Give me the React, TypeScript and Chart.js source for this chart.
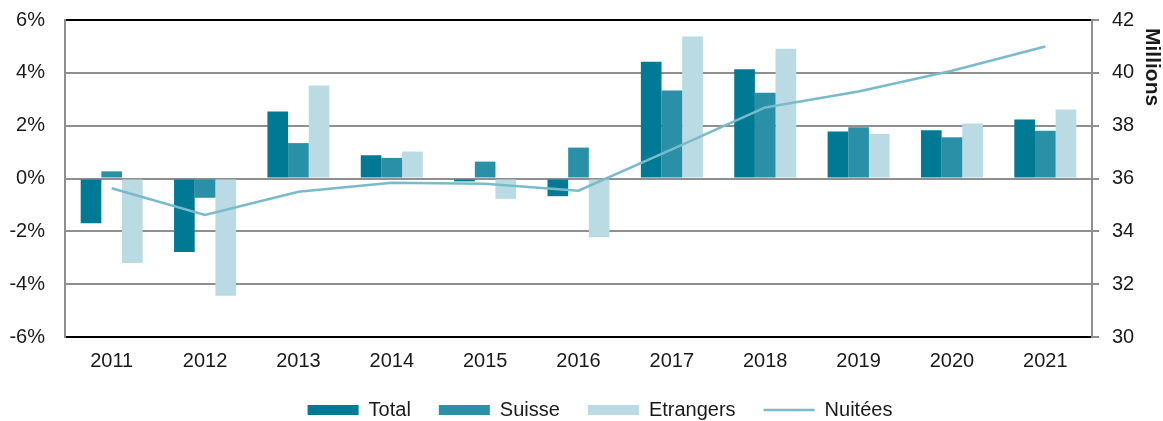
import React, { useEffect, useRef } from "react";
import { Chart, registerables } from "chart.js";

Chart.register(...registerables);

const years = ["2011", "2012", "2013", "2014", "2015", "2016", "2017", "2018", "2019", "2020", "2021"];
const totalPct = [-1.69, -2.78, 2.54, 0.88, -0.11, -0.67, 4.42, 4.14, 1.78, 1.83, 2.23];
const suissePct = [0.27, -0.73, 1.34, 0.78, 0.64, 1.17, 3.33, 3.25, 1.94, 1.56, 1.81];
const etrangersPct = [-3.2, -4.44, 3.52, 1.02, -0.77, -2.22, 5.38, 4.91, 1.68, 2.08, 2.61];
const nuitees = [35.63, 34.62, 35.5, 35.84, 35.8, 35.54, 37.1, 38.69, 39.29, 40.08, 41.0];

const FONT = '"Liberation Sans", Arial, Helvetica, sans-serif';
const GRID = "#8f8f8f";
const TEXT = "#1a1a1a";

const millionsPlugin = {
  id: "millionsTitle",
  afterDraw(chart: any) {
    const { ctx, chartArea } = chart;
    ctx.save();
    ctx.translate(chartArea.right + 54, chartArea.top + 8);
    ctx.rotate(Math.PI / 2);
    ctx.font = `bold 21px ${FONT}`;
    ctx.fillStyle = TEXT;
    ctx.textAlign = "left";
    ctx.textBaseline = "alphabetic";
    ctx.fillText("Millions", 0, 0);
    ctx.restore();
  },
};

export default function App() {
  const ref = useRef<HTMLCanvasElement | null>(null);

  useEffect(() => {
    if (!ref.current) return;
    const chart = new Chart(ref.current, {
      type: "bar",
      data: {
        labels: years,
        datasets: [
          {
            label: "Total",
            data: totalPct,
            backgroundColor: "#007a94",
            borderWidth: 0,
            yAxisID: "y",
            order: 1,
            pointStyle: "rect",
          },
          {
            label: "Suisse",
            data: suissePct,
            backgroundColor: "#2a90a7",
            borderWidth: 0,
            yAxisID: "y",
            order: 1,
            pointStyle: "rect",
          },
          {
            label: "Etrangers",
            data: etrangersPct,
            backgroundColor: "#badbe4",
            borderWidth: 0,
            yAxisID: "y",
            order: 1,
            pointStyle: "rect",
          },
          {
            type: "line",
            label: "Nuitées",
            data: nuitees,
            borderColor: "#79bbca",
            backgroundColor: "#79bbca",
            borderWidth: 2.5,
            pointRadius: 0,
            tension: 0,
            yAxisID: "y1",
            order: 0,
            pointStyle: "line",
          } as any,
        ],
      },
      options: {
        responsive: false,
        animation: false,
        devicePixelRatio: 1,
        layout: { padding: { top: 20, left: 0, right: -37, bottom: -9 } },
        datasets: {
          bar: { categoryPercentage: 0.664, barPercentage: 1 },
        },
        plugins: {
          tooltip: { enabled: false },
          legend: {
            position: "bottom",
            labels: {
              usePointStyle: true,
              pointStyleWidth: 51,
              boxWidth: 51,
              boxHeight: 10,
              padding: 28,
              color: TEXT,
              font: { family: FONT, size: 20 },
              sort: (a: any, b: any) => a.datasetIndex - b.datasetIndex,
            },
          },
        },
        scales: {
          x: {
            grid: { display: false, drawTicks: false },
            border: { display: true, color: "#000", width: 2 },
            ticks: { color: TEXT, font: { family: FONT, size: 20 }, padding: 12, maxRotation: 0 },
            afterFit: (s: any) => {
              s.height = 35;
              s.paddingLeft = 0;
              s.paddingRight = 0;
            },
          },
          y: {
            position: "left",
            min: -6,
            max: 6,
            ticks: {
              stepSize: 2,
              color: TEXT,
              padding: 20,
              font: { family: FONT, size: 20 },
              callback: (v: any) => `${v}%`,
            },
            grid: {
              drawTicks: false,
              lineWidth: 2,
              color: (c: any) => (c.tick && (c.tick.value === 6 || c.tick.value === -6) ? "#000" : GRID),
            },
            border: { display: true, color: GRID, width: 2 },
            afterFit: (s: any) => {
              s.width = 65;
              s.paddingTop = 0;
              s.paddingBottom = 0;
            },
          },
          y1: {
            position: "right",
            min: 30,
            max: 42,
            ticks: {
              stepSize: 2,
              color: TEXT,
              padding: 13,
              font: { family: FONT, size: 20 },
            },
            grid: {
              drawOnChartArea: false,
              drawTicks: true,
              tickLength: 7,
              lineWidth: 2,
              color: GRID,
            },
            border: { display: true, color: GRID, width: 2 },
            afterFit: (s: any) => {
              s.width = 108;
              s.paddingTop = 0;
              s.paddingBottom = 0;
            },
          },
        },
      },
      plugins: [millionsPlugin],
    } as any);
    return () => chart.destroy();
  }, []);

  return (
    <div style={{ position: "fixed", left: 0, top: 0, width: 1163, height: 421, background: "#fff" }}>
      <canvas ref={ref} width={1163} height={421} style={{ width: 1163, height: 421, display: "block" }} />
    </div>
  );
}
